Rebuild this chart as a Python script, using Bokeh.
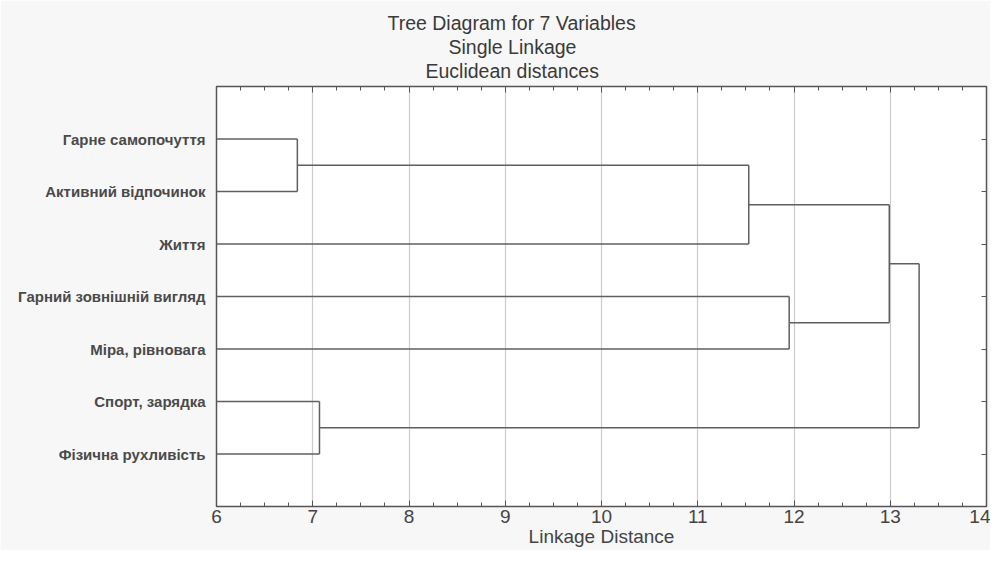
from bokeh.plotting import figure
from bokeh.models import Range1d, LinearAxis, FixedTicker, SingleIntervalTicker, Title
from bokeh.embed import file_html
from bokeh.resources import INLINE

# ---- data ----
title_lines = ["Tree Diagram for 7 Variables", "Single Linkage", "Euclidean distances"]
labels = ["Гарне самопочуття", "Активний відпочинок", "Життя",
          "Гарний зовнішній вигляд", "Міра, рівновага",
          "Спорт, зарядка", "Фізична рухливість"]
# linkage: clusters numbered after the 7 leaves (7, 8, ...)
merge_a = [0, 5, 7, 3, 9, 11]
merge_b = [1, 6, 2, 4, 10, 8]
merge_dist = [6.84, 7.07, 11.53, 11.95, 12.99, 13.30]
x_ticks = [6, 7, 8, 9, 10, 11, 12, 13, 14]

FONT = "Liberation Sans"
X0, X1 = 6, 14
n = len(labels)
AX = "#555555"
TXT = "#444444"

# ---- dendrogram geometry from linkage ----
pos = {i: i + 1 for i in range(n)}
hgt = {i: X0 for i in range(n)}
xs, ys = [], []
for k, (a, b, d) in enumerate(zip(merge_a, merge_b, merge_dist)):
    c = n + k
    for ch in (a, b):
        xs.append([hgt[ch], d]); ys.append([pos[ch], pos[ch]])
    xs.append([d, d]); ys.append([pos[a], pos[b]])
    pos[c] = (pos[a] + pos[b]) / 2
    hgt[c] = d

W, H = 990, 550
BL, BR, BT, BB = 216, 4, 86, 44
p = figure(width=W, height=H, x_range=Range1d(X0, X1), y_range=Range1d(n + 1, 0),
           output_backend="svg", toolbar_location=None,
           min_border_left=BL, min_border_right=BR, min_border_top=BT, min_border_bottom=BB,
           background_fill_color="white", border_fill_color="#f7f7f7",
           outline_line_color=AX, outline_line_width=1.5)

p.multi_line(xs, ys, line_color="#5f5f5f", line_width=1.5)

# grid
p.ygrid.visible = False
p.xgrid.ticker = FixedTicker(ticks=x_ticks)
p.xgrid.grid_line_color = "#cccccc"
p.xgrid.grid_line_width = 1.2

# bottom axis
xa = p.xaxis[0]
xa.ticker = SingleIntervalTicker(interval=1, num_minor_ticks=4)
xa.axis_label = "Linkage Distance"
xa.axis_label_text_font = FONT
xa.axis_label_text_font_size = "19px"
xa.axis_label_text_font_style = "normal"
xa.axis_label_text_color = TXT
xa.axis_label_standoff = 0
xa.major_label_text_font = FONT
xa.major_label_text_font_size = "19px"
xa.major_label_text_color = TXT
xa.major_label_standoff = 3
xa.major_tick_in = 6
xa.major_tick_out = 0
xa.minor_tick_in = 4
xa.minor_tick_out = 0
xa.axis_line_color = AX
xa.major_tick_line_color = AX
xa.minor_tick_line_color = AX

# top axis (ticks only)
ta = LinearAxis(ticker=SingleIntervalTicker(interval=1, num_minor_ticks=4),
                major_label_text_font_size="0px", major_label_standoff=0,
                major_tick_in=6, major_tick_out=0, minor_tick_in=4, minor_tick_out=0,
                axis_line_color=AX, major_tick_line_color=AX,
                minor_tick_line_color=AX)
p.add_layout(ta, "above")

# left axis with labels
ya = p.yaxis[0]
ya.ticker = FixedTicker(ticks=list(range(1, n + 1)))
ya.major_label_overrides = {i + 1: lab for i, lab in enumerate(labels)}
ya.major_label_text_font = FONT
ya.major_label_text_font_size = "15px"
ya.major_label_text_font_style = "bold"
ya.major_label_text_color = "#4a4a4a"
ya.major_label_standoff = 11
ya.major_tick_in = 0
ya.major_tick_out = 0
ya.minor_tick_line_color = None
ya.axis_line_color = AX

# right axis (ticks only)
ra = LinearAxis(ticker=FixedTicker(ticks=list(range(1, n + 1))),
                major_label_text_font_size="0px", major_label_standoff=0,
                major_tick_in=5, major_tick_out=0, minor_tick_line_color=None,
                axis_line_color=AX, major_tick_line_color=AX)
p.add_layout(ra, "right")

# three title lines, each centred on a point left of the frame centre.
# Liberation Sans (Arial metrics) advance widths, 1/1000 em
ADV = {"T": 611, "r": 333, "e": 556, " ": 278, "D": 722, "i": 222, "a": 556, "g": 556,
       "m": 833, "f": 278, "o": 556, "7": 556, "V": 667, "b": 556, "l": 222, "s": 500,
       "S": 667, "n": 556, "L": 556, "k": 500, "E": 667, "u": 556, "c": 500, "d": 556,
       "t": 278}
TSIZE = 19.5
title_cx = 296   # px right of the frame's left edge
for j, line in enumerate(reversed(title_lines)):
    w = sum(ADV.get(ch, 556) for ch in line) / 1000 * TSIZE
    p.add_layout(Title(text=line, align="left", offset=round(title_cx - w / 2),
                       vertical_align="top" if j == 0 else "bottom",
                       text_font=FONT, text_font_size=f"{TSIZE}px",
                       text_font_style="normal", text_color="#3a3a3a",
                       standoff=5 if j == 0 else 0), "above")

open("out.html", "w").write(file_html(p, INLINE))
